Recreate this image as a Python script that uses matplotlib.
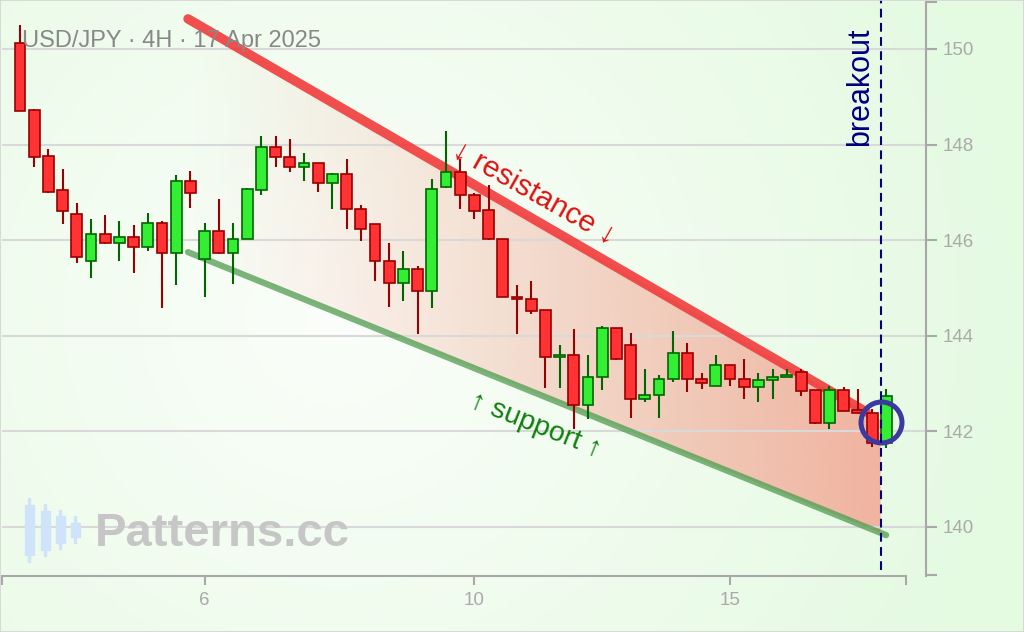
import numpy as np
import matplotlib
matplotlib.use('Agg')
import matplotlib.pyplot as plt
from matplotlib.patches import Polygon, Rectangle
from matplotlib.colors import to_rgb

plt.rcParams['font.family'] = ['Liberation Sans', 'DejaVu Sans']

# ---------------- data (USD/JPY 4H candles) ----------------
opens = [150.13, 148.72, 147.76, 147.04, 146.54, 145.56, 146.12, 145.95, 146.07, 145.85,
         146.37, 145.73, 147.24, 145.61, 146.20, 145.73, 146.03, 147.06, 147.96, 147.75,
         147.53, 147.62, 147.20, 147.38, 146.66, 146.33, 145.57, 145.10, 145.40, 144.93,
         147.11, 147.42, 146.95, 146.63, 146.03, 144.82, 144.78, 144.53, 143.55, 143.60,
         142.55, 143.14, 144.16, 143.81, 142.68, 142.76, 143.10, 143.65, 143.10, 142.96,
         143.39, 143.10, 142.92, 143.07, 143.13, 143.24, 142.86, 142.17, 142.86, 142.45,
         142.39, 141.75]
highs = [150.50, 148.74, 147.90, 147.48, 146.78, 146.44, 146.52, 146.40, 146.31, 146.56,
         146.40, 147.36, 147.45, 146.35, 146.86, 146.35, 147.10, 148.17, 148.17, 148.12,
         147.82, 147.62, 147.41, 147.69, 146.74, 146.34, 145.94, 145.77, 145.47, 147.27,
         148.28, 147.69, 146.98, 147.15, 146.03, 145.06, 145.14, 144.53, 143.80, 144.14,
         143.59, 144.21, 144.16, 144.05, 143.30, 143.17, 144.09, 143.84, 143.22, 143.59,
         143.39, 143.51, 143.22, 143.30, 143.30, 143.30, 142.86, 142.96, 142.92, 142.88,
         142.46, 142.88]
lows = [148.70, 147.54, 146.99, 146.33, 145.53, 145.20, 145.91, 145.57, 145.32, 145.78,
        144.58, 145.06, 146.67, 144.82, 145.71, 145.08, 146.03, 146.95, 147.54, 147.42,
        147.24, 147.00, 146.66, 146.24, 145.99, 145.15, 144.61, 144.73, 144.03, 144.58,
        147.09, 146.66, 146.45, 146.00, 144.81, 144.03, 144.45, 142.90, 142.90, 142.06,
        142.25, 142.87, 143.49, 142.27, 142.61, 142.27, 143.03, 142.82, 142.89, 142.94,
        142.94, 142.68, 142.61, 142.68, 143.13, 142.73, 142.15, 142.06, 142.42, 142.38,
        141.68, 141.65]
closes = [148.71, 147.75, 147.01, 146.61, 145.64, 146.12, 145.94, 146.07, 145.86, 146.37,
          145.73, 147.24, 146.98, 146.20, 145.73, 146.03, 147.08, 147.96, 147.74, 147.53,
          147.62, 147.20, 147.38, 146.65, 146.23, 145.56, 145.10, 145.40, 144.93, 147.08,
          147.42, 146.94, 146.61, 146.02, 144.81, 144.77, 144.52, 143.55, 143.60, 142.55,
          143.14, 144.16, 143.51, 142.68, 142.77, 143.10, 143.65, 143.10, 143.01, 143.39,
          143.10, 142.92, 143.07, 143.14, 143.19, 142.85, 142.17, 142.86, 142.42, 142.38,
          141.75, 142.73]

x_tick_pos = [13, 32, 50]
x_tick_labels = ['6', '10', '15']
y_ticks = [140, 142, 144, 146, 148, 150]

resistance_x = [11.83, 59.58]
resistance_y = [150.63, 142.41]
support_x = [11.83, 60.99]
support_y = [145.75, 139.83]
breakout_x = 60.6
breakout_pt = (60.62, 142.19)

title = 'USD/JPY · 4H · 17 Apr 2025'

# ---------------- figure ----------------
W, H = 1024, 632
fig = plt.figure(figsize=(W / 100, H / 100), dpi=100)

# background gradient
bg = fig.add_axes([0, 0, 1, 1], zorder=-10)
yy, xx = np.mgrid[0:1:200j, 0:1:320j]
d = np.sqrt(((xx - 0.33) * 1.6) ** 2 + ((yy - 0.5) * 1.0) ** 2)
t = np.clip(d / 1.1, 0, 1)[..., None]
c0 = np.array([251, 254, 250]) / 255
c1 = np.array([228, 250, 225]) / 255
img = c0 * (1 - t) + c1 * t
bg.imshow(img, extent=[0, 1, 0, 1], aspect='auto', origin='lower')
bg.set_xlim(0, 1); bg.set_ylim(0, 1)
bg.axis('off')

xl = (-1.268, 63.80)
yl = (138.981, 150.983)
ax = fig.add_axes([2 / W, 1 - 575.7 / H, 924 / W, 573.7 / H])
ax.set_facecolor('none')

# channel gradient fill
def line_at(xs, ys, x):
    return ys[0] + (ys[1] - ys[0]) * (x - xs[0]) / (xs[1] - xs[0])

x_left = resistance_x[0]
poly_pts = [(x_left, line_at(resistance_x, resistance_y, x_left)),
            (breakout_x, line_at(resistance_x, resistance_y, breakout_x)),
            (breakout_x, line_at(support_x, support_y, breakout_x)),
            (x_left, line_at(support_x, support_y, x_left))]
poly = Polygon(poly_pts, closed=True, facecolor='none', edgecolor='none')
ax.add_patch(poly)
n = 256
grad = np.zeros((1, n, 4))
grad[..., :3] = to_rgb('#f2ab98')
grad[..., 3] = np.linspace(0.0, 0.9, n) ** 1.1
im = ax.imshow(grad, extent=[x_left, breakout_x, 139.0, 151.0], aspect='auto',
               origin='lower', zorder=1, interpolation='bilinear')
im.set_clip_path(poly)

# grid
for yv in y_ticks:
    ax.axhline(yv, color='#d9d9d9', lw=1.5, zorder=1.5)

# trend lines
ax.plot(resistance_x, resistance_y, color='#f03c3c', alpha=0.9, lw=6.8,
        solid_capstyle='round', zorder=2)
ax.plot(support_x, support_y, color='#4f9c4f', alpha=0.75, lw=4.5,
        solid_capstyle='round', zorder=2)

# candles
o = np.array(opens); h = np.array(highs); l = np.array(lows); c = np.array(closes)
idx = np.arange(len(o))
up = c >= o
face = np.where(up, '#33ee33', '#ff3333')
edge = np.where(up, '#006600', '#990000')
ax.vlines(idx, l, h, colors=edge, lw=1.5, zorder=4)
bottoms = np.minimum(o, c)
heights = np.maximum(np.abs(c - o), 0.04)
ax.bar(idx, heights, bottom=bottoms, width=0.77, color=face, edgecolor=edge,
       linewidth=1.2, zorder=5)

# breakout marker
ax.plot([breakout_pt[0]], [breakout_pt[1]], marker='o', markersize=29.5,
        markerfacecolor='none', markeredgecolor='#3a3aa0', markeredgewidth=3.6,
        zorder=6)
ax.plot([breakout_x, breakout_x], [139.10, 151.3], color='#000080', lw=1.5,
        linestyle=(0, (4.2, 2.6)), zorder=7, clip_on=False)

# annotations
ax.text(36.2, 146.99, '↓ resistance ↓', color='#e01010', fontsize=21.5,
        rotation=-29.5, ha='center', va='center', rotation_mode='anchor', zorder=8)
ax.text(36.3, 142.12, '↑ support ↑', color='#108010', fontsize=20.5,
        rotation=-21.5, ha='center', va='center', rotation_mode='anchor', zorder=8)
ax.text(59.15, 149.22, 'breakout', color='#000080', fontsize=22,
        rotation=90, ha='center', va='center', zorder=8)

# axes styling
ax.set_xlim(*xl)
ax.set_ylim(*yl)
for s in ['left', 'top']:
    ax.spines[s].set_visible(False)
for s in ['bottom', 'right']:
    ax.spines[s].set_color('#a8a8a8')
    ax.spines[s].set_linewidth(1.5)
ax.spines['bottom'].set_bounds(xl[0], 62.39)

ax.set_xticks([xl[0] + 0.01] + x_tick_pos + [62.39])
ax.set_xticklabels([''] + x_tick_labels + [''])
ax.tick_params(axis='x', direction='out', length=6.5, width=1.5, colors='#a8a8a8',
               labelcolor='#aaaaaa', labelsize=13.5, pad=5)
ax.yaxis.tick_right()
ax.set_yticks([yl[0] + 0.005] + y_ticks + [yl[1] - 0.005])
ax.set_yticklabels([''] + [str(v) for v in y_ticks] + [''])
ax.tick_params(axis='y', direction='out', length=8, width=1.5, colors='#a8a8a8',
               labelcolor='#aaaaaa', labelsize=13.5, pad=4)

# title
fig.text(22 / W, 1 - 41 / H, title, color='#888888', fontsize=17, ha='left', va='center')

# watermark
for cx, b0, b1, w0, w1 in [(29, 505, 555, 498, 562), (45, 511, 550, 504, 556),
                           (60, 516, 543, 510, 549), (75, 523, 537, 516, 543)]:
    fig.add_artist(Rectangle(((cx - 1) / W, 1 - w1 / H), 2 / W, (w1 - w0) / H,
                             transform=fig.transFigure, color='#cfe4fa', zorder=3))
    fig.add_artist(Rectangle(((cx - 4.5) / W, 1 - b1 / H), 9 / W, (b1 - b0) / H,
                             transform=fig.transFigure, color='#cfe4fa', zorder=3))
fig.text(95 / W, 1 - 534 / H, 'Patterns.cc', color='#c6c6c6', fontsize=34,
         fontweight='bold', ha='left', va='center', zorder=3)

# thin border
fig.add_artist(Rectangle((0, 0), 1, 1, transform=fig.transFigure, fill=False,
                         edgecolor='#d4d4d4', lw=1.2, zorder=20))

fig.savefig('out.png', dpi=100)
